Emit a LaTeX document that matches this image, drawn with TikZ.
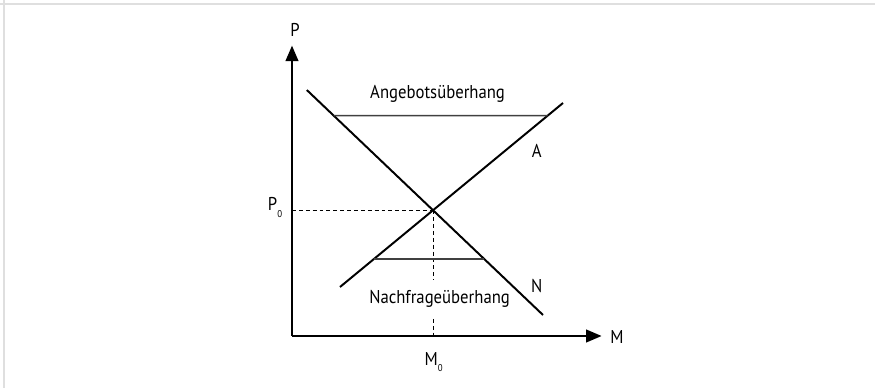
\documentclass[tikz,border=0pt]{standalone}
\usepackage{fontspec}
\setmainfont{PT Sans}[FakeStretch=0.9]
\usetikzlibrary{positioning,arrows.meta,calc}
\newcommand{\lowsub}[1]{\raisebox{-4.8pt}{\fontsize{7}{7}\selectfont #1}}
\tikzset{
  axis/.style={line width=1.4pt,-{Triangle[length=11pt,width=9pt]}},
  curve/.style={line width=1.4pt},
  gapline/.style={line width=1.1pt,black!75},
  guide/.style={line width=0.7pt,dash pattern=on 2.8pt off 2.1pt},
  lbl/.style={font=\fontsize{13.2}{15}\selectfont,inner sep=0pt}
}

\begin{document}
\begin{tikzpicture}[x=1cm,y=1cm]
\useasboundingbox (-7.3,-1.3) rectangle (14.575,8.4);
% grey frame, top and left only
\draw[gray!25,line width=1.4pt] (-7.3,8.29) -- (14.575,8.29);
\draw[gray!25,line width=1.4pt] (-7.19,8.4) -- (-7.19,-1.3);
% points of the two lines
\coordinate (O) at (0,0);
\coordinate (Ptip) at (0,7.26);
\coordinate (Mtip) at (7.74,0);
\coordinate (N1) at (0.37,6.15);
\coordinate (N2) at (6.275,0.525);
\coordinate (A1) at (1.2,1.225);
\coordinate (A2) at (6.775,5.825);
\coordinate (E) at (intersection of N1--N2 and A1--A2);
\coordinate (hiL) at (0,5.51);
\coordinate (hiR) at (1,5.51);
\coordinate (loL) at (0,1.925);
\coordinate (loR) at (1,1.925);
% labels
\node[lbl] (P) at (0.075,7.65) {P};
\node[lbl] (M) at (8.125,-0.025) {M};
\node[lbl,anchor=base east] (P0) at (-0.24,3.13) {P\lowsub{0}};
\node[lbl,anchor=base] (M0) at (3.54,-0.725) {M\lowsub{0}};
\node[lbl,anchor=base] (Alab) at (6.12,4.47) {A};
\node[lbl,anchor=base] (Nlab) at (6.12,1.09) {N};
\node[lbl,anchor=base] (angebot) at (3.64,5.925) {Angebotsüberhang};
\node[lbl,anchor=base,outer ysep=7.8pt] (nachfrage) at (3.69,0.8) {Nachfrageüberhang};
% dashed guides to P0 and M0
\draw[guide] (O |- E) -- (E);
\draw[guide] (E) -- (E |- nachfrage.north);
\draw[guide] (E |- nachfrage.south) -- (E |- O);
% axes
\draw[axis] (O) -- (Ptip);
\draw[axis] (O) -- (Mtip);
% demand N and supply A
\draw[curve] (N1) -- (N2);
\draw[curve] (A1) -- (A2);
% overhangs
\draw[gapline] (intersection of hiL--hiR and N1--N2) -- (intersection of hiL--hiR and A1--A2);
\draw[gapline] (intersection of loL--loR and A1--A2) -- (intersection of loL--loR and N1--N2);
\end{tikzpicture}
\end{document}
